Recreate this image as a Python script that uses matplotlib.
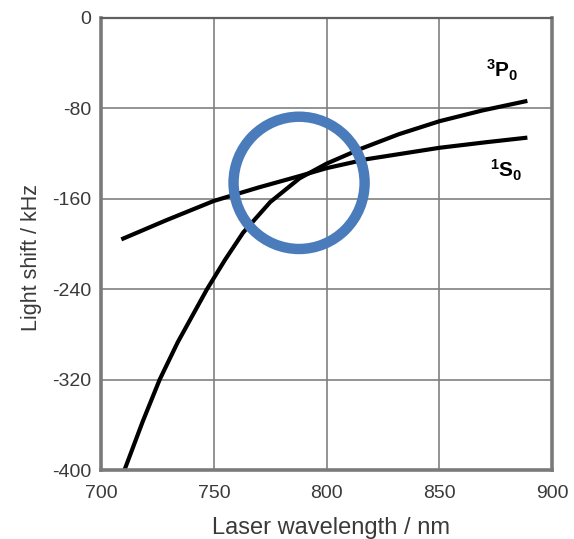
import matplotlib.pyplot as plt
from matplotlib.patches import Ellipse

# wavelength (nm) and light shift (kHz)
wl_s0 = [709, 729, 750, 770, 788, 800, 818, 850, 871, 889]
shift_s0 = [-196, -179, -162, -150, -140, -133, -125, -115, -110, -106]

wl_p0 = [710.4, 718.5, 726, 734, 747, 755, 763, 775, 788, 800, 815, 832, 850, 869, 889]
shift_p0 = [-400, -357, -320, -287, -240, -214, -190, -163, -142, -129, -116, -103, -91.5, -82, -73.5]

x_ticks = [700, 750, 800, 850, 900]
y_ticks = [0, -80, -160, -240, -320, -400]

plt.rcParams['font.family'] = ['Liberation Sans', 'DejaVu Sans']
plt.rcParams['axes.unicode_minus'] = False
plt.rcParams['mathtext.fontset'] = 'custom'
plt.rcParams['mathtext.rm'] = 'Liberation Sans'
plt.rcParams['mathtext.bf'] = 'Liberation Sans:bold'

fig = plt.figure(figsize=(5.74, 5.39), dpi=100)
ax = fig.add_axes([0.176, 0.128, 0.786, 0.839])

ax.plot(wl_s0, shift_s0, color='black', lw=3.0, solid_capstyle='butt', solid_joinstyle='round')
ax.plot(wl_p0, shift_p0, color='black', lw=3.0, solid_capstyle='butt', solid_joinstyle='round')

# blue highlight ring around the crossing
ring = Ellipse((787.8, -146), width=58.1, height=117, fill=False,
               edgecolor='#4a7bbb', lw=7.5, zorder=5)
ax.add_patch(ring)

ax.set_xlim(700, 900)
ax.set_ylim(-400, 0)
ax.set_xticks(x_ticks)
ax.set_yticks(y_ticks)
ax.tick_params(length=0, labelsize=14, labelcolor='#3a3a3a')
ax.tick_params(axis='y', pad=7)
ax.tick_params(axis='x', pad=11)
ax.grid(True, color='#808080', lw=1.2)
ax.set_axisbelow(True)
for side in ['left', 'bottom', 'right']:
    ax.spines[side].set_color('#7a7a7a')
    ax.spines[side].set_linewidth(2.6)
ax.spines['top'].set_color('#606060')
ax.spines['top'].set_linewidth(1.6)

ax.set_xlabel('Laser wavelength / nm', fontsize=17, color='#3a3a3a')
ax.set_ylabel('Light shift / kHz', fontsize=15.5, color='#3a3a3a')
ax.xaxis.set_label_coords(0.51, -0.105)
ax.yaxis.set_label_coords(-0.13, 0.47)

ax.text(870.5, -53, r'$\mathbf{^3P_0}$', fontsize=15, ha='left', va='baseline')
ax.text(872.5, -141, r'$\mathbf{^1S_0}$', fontsize=15, ha='left', va='baseline')

fig.savefig('out.png', dpi=100, facecolor='white')
